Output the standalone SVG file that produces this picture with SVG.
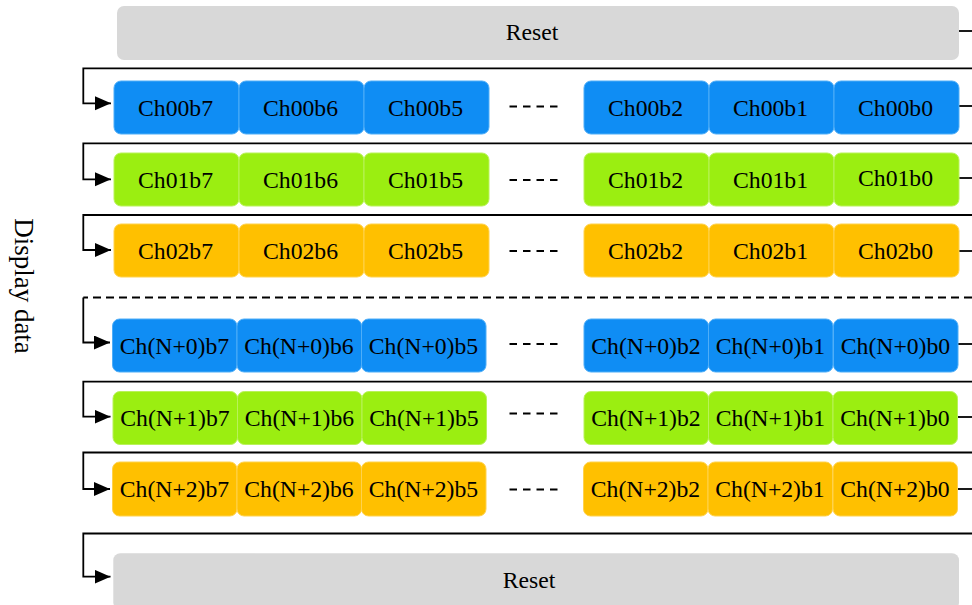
<svg xmlns="http://www.w3.org/2000/svg" width="972" height="605" viewBox="0 0 972 605">
<defs>
<style>
text{font-family:"Liberation Serif","Times New Roman",serif;font-size:23.7px;fill:#000;text-anchor:middle}
.b{fill:#0F8DF4;stroke:#4FAEF8;stroke-width:1}
.g{fill:#9BEE11;stroke:#B9F25A;stroke-width:1}
.o{fill:#FFC000;stroke:#FFD24D;stroke-width:1}
.r{fill:#D8D8D8}
.ln{fill:none;stroke:#000;stroke-width:1.8}
.dl{fill:none;stroke:#000;stroke-width:2;stroke-dasharray:7.5 6}
.dh{fill:none;stroke:#000;stroke-width:1.8;stroke-dasharray:8 5}
</style>
<marker id="ah" markerWidth="18" markerHeight="16" refX="16" refY="7" orient="auto" markerUnits="userSpaceOnUse"><path d="M0,0 L16,7 L0,14 z" fill="#000"/></marker>
</defs>
<rect width="972" height="605" fill="#fff"/>

<g id="connectors">
<path class="ln" d="M959,31 H972"/>
<path class="ln" d="M972,68.3 H83.3 V103.3 H111" marker-end="url(#ah)"/>
<path class="ln" d="M959,106 H972"/>
<path class="ln" d="M972,143.3 H83.3 V179.3 H111" marker-end="url(#ah)"/>
<path class="ln" d="M959,178 H972"/>
<path class="ln" d="M972,215 H83.3 V250 H111" marker-end="url(#ah)"/>
<path class="ln" d="M959,251 H972"/>
<path class="dh" d="M972,297.5 H83.3"/>
<path class="ln" d="M83.3,297.5 V342.5 H110" marker-end="url(#ah)"/>
<path class="ln" d="M958,344 H972"/>
<path class="ln" d="M972,381.7 H83.3 V416.7 H110.5" marker-end="url(#ah)"/>
<path class="ln" d="M958,417 H972"/>
<path class="ln" d="M972,452.5 H83.3 V489 H110" marker-end="url(#ah)"/>
<path class="ln" d="M958,489 H972"/>
<path class="ln" d="M972,533.5 H83.3 V576.7 H110.5" marker-end="url(#ah)"/>
<path class="dl" d="M509.5,106.5 H557.5"/>
<path class="dl" d="M509.5,180 H557.5"/>
<path class="dl" d="M509.5,251 H557.5"/>
<path class="dl" d="M509.5,344 H557.5"/>
<path class="dl" d="M509.5,413.5 H557.5"/>
<path class="dl" d="M509.5,489.5 H557.5"/>
</g>

<text id="side-label" style="font-size:27px" transform="translate(15,286) rotate(90)">Display data</text>

<g id="reset-top"><rect class="r" x="117" y="6" width="842" height="54" rx="7"/><text x="532" y="40">Reset</text></g>

<g id="row00">
<g id="Ch00b7"><rect class="b" x="114" y="81" width="125" height="53" rx="7"/><text x="175.5" y="115.5">Ch00b7</text></g>
<g id="Ch00b6"><rect class="b" x="239" y="81" width="125" height="53" rx="7"/><text x="300.5" y="115.5">Ch00b6</text></g>
<g id="Ch00b5"><rect class="b" x="364" y="81" width="125" height="53" rx="7"/><text x="425.5" y="115.5">Ch00b5</text></g>
<g id="Ch00b2"><rect class="b" x="584" y="81" width="125" height="53" rx="7"/><text x="645.5" y="115.5">Ch00b2</text></g>
<g id="Ch00b1"><rect class="b" x="709" y="81" width="125" height="53" rx="7"/><text x="770.5" y="115.5">Ch00b1</text></g>
<g id="Ch00b0"><rect class="b" x="834" y="81" width="125" height="53" rx="7"/><text x="895.5" y="115.5">Ch00b0</text></g>
</g>

<g id="row01">
<g id="Ch01b7"><rect class="g" x="114" y="153" width="125" height="53" rx="7"/><text x="175.5" y="187.5">Ch01b7</text></g>
<g id="Ch01b6"><rect class="g" x="239" y="153" width="125" height="53" rx="7"/><text x="300.5" y="187.5">Ch01b6</text></g>
<g id="Ch01b5"><rect class="g" x="364" y="153" width="125" height="53" rx="7"/><text x="425.5" y="187.5">Ch01b5</text></g>
<g id="Ch01b2"><rect class="g" x="584" y="153" width="125" height="53" rx="7"/><text x="645.5" y="187.5">Ch01b2</text></g>
<g id="Ch01b1"><rect class="g" x="709" y="153" width="125" height="53" rx="7"/><text x="770.5" y="187.5">Ch01b1</text></g>
<g id="Ch01b0"><rect class="g" x="834" y="153" width="125" height="53" rx="7"/><text x="895.5" y="186">Ch01b0</text></g>
</g>

<g id="row02">
<g id="Ch02b7"><rect class="o" x="114" y="224" width="125" height="53" rx="7"/><text x="175.5" y="258.5">Ch02b7</text></g>
<g id="Ch02b6"><rect class="o" x="239" y="224" width="125" height="53" rx="7"/><text x="300.5" y="258.5">Ch02b6</text></g>
<g id="Ch02b5"><rect class="o" x="364" y="224" width="125" height="53" rx="7"/><text x="425.5" y="258.5">Ch02b5</text></g>
<g id="Ch02b2"><rect class="o" x="584" y="224" width="125" height="53" rx="7"/><text x="645.5" y="258.5">Ch02b2</text></g>
<g id="Ch02b1"><rect class="o" x="709" y="224" width="125" height="53" rx="7"/><text x="770.5" y="258.5">Ch02b1</text></g>
<g id="Ch02b0"><rect class="o" x="834" y="224" width="125" height="53" rx="7"/><text x="895.5" y="258.5">Ch02b0</text></g>
</g>

<g id="rowN0">
<g id="ChN0b7"><rect class="b" x="112.5" y="319" width="124.5" height="53" rx="7"/><text x="174.5" y="353.5">Ch(N+0)b7</text></g>
<g id="ChN0b6"><rect class="b" x="237" y="319" width="124.5" height="53" rx="7"/><text x="299" y="353.5">Ch(N+0)b6</text></g>
<g id="ChN0b5"><rect class="b" x="361.5" y="319" width="124.5" height="53" rx="7"/><text x="423.5" y="353.5">Ch(N+0)b5</text></g>
<g id="ChN0b2"><rect class="b" x="584" y="319" width="124.5" height="53" rx="7"/><text x="646" y="353.5">Ch(N+0)b2</text></g>
<g id="ChN0b1"><rect class="b" x="708.5" y="319" width="124.5" height="53" rx="7"/><text x="770.5" y="353.5">Ch(N+0)b1</text></g>
<g id="ChN0b0"><rect class="b" x="833.5" y="319" width="124.5" height="53" rx="7"/><text x="895.5" y="353.5">Ch(N+0)b0</text></g>
</g>

<g id="rowN1">
<g id="ChN1b7"><rect class="g" x="113" y="391.5" width="124.5" height="53" rx="7"/><text x="175" y="425.5">Ch(N+1)b7</text></g>
<g id="ChN1b6"><rect class="g" x="237.5" y="391.5" width="124.5" height="53" rx="7"/><text x="299.5" y="425.5">Ch(N+1)b6</text></g>
<g id="ChN1b5"><rect class="g" x="362" y="391.5" width="124.5" height="53" rx="7"/><text x="424" y="425.5">Ch(N+1)b5</text></g>
<g id="ChN1b2"><rect class="g" x="584" y="391.5" width="124.5" height="53" rx="7"/><text x="646" y="425.5">Ch(N+1)b2</text></g>
<g id="ChN1b1"><rect class="g" x="708.5" y="391.5" width="124.5" height="53" rx="7"/><text x="770.5" y="425.5">Ch(N+1)b1</text></g>
<g id="ChN1b0"><rect class="g" x="833" y="391.5" width="124.5" height="53" rx="7"/><text x="895" y="425.5">Ch(N+1)b0</text></g>
</g>

<g id="rowN2">
<g id="ChN2b7"><rect class="o" x="112.5" y="462" width="124.5" height="54" rx="7"/><text x="174.5" y="497">Ch(N+2)b7</text></g>
<g id="ChN2b6"><rect class="o" x="237" y="462" width="124.5" height="54" rx="7"/><text x="299" y="497">Ch(N+2)b6</text></g>
<g id="ChN2b5"><rect class="o" x="361.5" y="462" width="124.5" height="54" rx="7"/><text x="423.5" y="497">Ch(N+2)b5</text></g>
<g id="ChN2b2"><rect class="o" x="583.5" y="462" width="124.5" height="54" rx="7"/><text x="645.5" y="497">Ch(N+2)b2</text></g>
<g id="ChN2b1"><rect class="o" x="708" y="462" width="124.5" height="54" rx="7"/><text x="770" y="497">Ch(N+2)b1</text></g>
<g id="ChN2b0"><rect class="o" x="833" y="462" width="124.5" height="54" rx="7"/><text x="895" y="497">Ch(N+2)b0</text></g>
</g>

<g id="reset-bottom"><rect class="r" x="113.3" y="553.3" width="845.7" height="56" rx="7"/><text x="529" y="588">Reset</text></g>
</svg>
